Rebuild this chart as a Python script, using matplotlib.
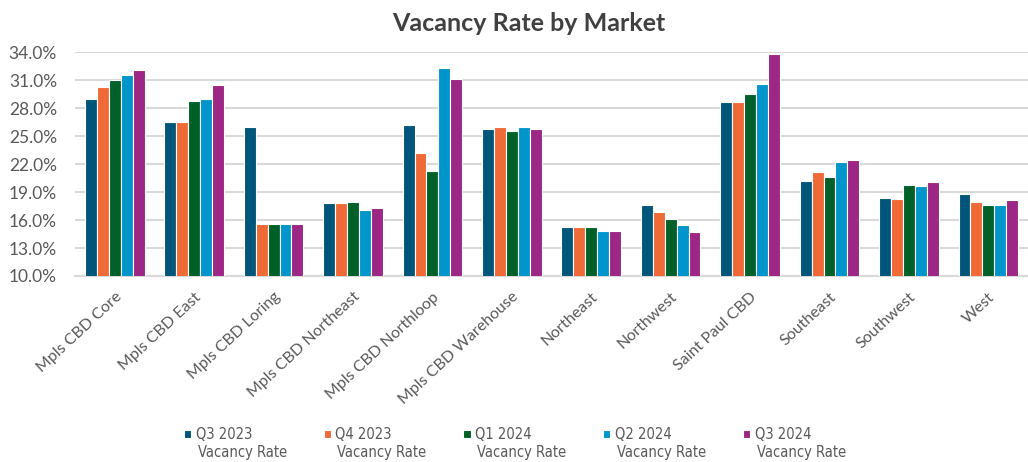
import matplotlib
matplotlib.use("Agg")
import matplotlib.pyplot as plt
import numpy as np
from matplotlib.ticker import FuncFormatter
from matplotlib import font_manager as fm

markets = ["Mpls CBD Core", "Mpls CBD East", "Mpls CBD Loring", "Mpls CBD Northeast",
           "Mpls CBD Northloop", "Mpls CBD Warehouse", "Northeast", "Northwest",
           "Saint Paul CBD", "Southeast", "Southwest", "West"]
series_quarters = ["Q3 2023", "Q4 2023", "Q1 2024", "Q2 2024", "Q3 2024"]
series_suffix = "Vacancy Rate"
q3_2023 = [29.0, 26.5, 26.0, 17.8, 26.2, 25.8, 15.3, 17.6, 28.6, 20.2, 18.4, 18.75]
q4_2023 = [30.3, 26.5, 15.6, 17.8, 23.2, 26.0, 15.3, 16.9, 28.6, 21.1, 18.25, 17.9]
q1_2024 = [31.0, 28.8, 15.6, 17.9, 21.2, 25.5, 15.3, 16.1, 29.5, 20.6, 19.75, 17.6]
q2_2024 = [31.5, 29.0, 15.6, 17.1, 32.25, 26.0, 14.8, 15.5, 30.6, 22.2, 19.6, 17.6]
q3_2024 = [32.1, 30.5, 15.6, 17.25, 31.1, 25.8, 14.8, 14.7, 33.75, 22.4, 20.07, 18.1]
yticks = [10, 13, 16, 19, 22, 25, 28, 31, 34]

colors = ["#00567A", "#F06A37", "#00602A", "#0096CC", "#9C2784"]
all_series = [q3_2023, q4_2023, q1_2024, q2_2024, q3_2024]

plt.rcParams['font.family'] = ['Lato', 'DejaVu Sans']

# pick a narrow font for the legend if one is installed
avail = {(f.name, f.stretch) for f in fm.fontManager.ttflist}
names = {f.name for f in fm.fontManager.ttflist}
if "Liberation Sans Narrow" in names:
    leg_prop = fm.FontProperties(family="Liberation Sans Narrow", size=12)
elif any(n == "DejaVu Sans" and s == "condensed" for n, s in avail):
    leg_prop = fm.FontProperties(family="DejaVu Sans", stretch="condensed", size=10.5)
else:
    leg_prop = fm.FontProperties(family="Lato", size=10.5)

fig = plt.figure(figsize=(10.28, 4.62), dpi=100)
ax = fig.add_axes([0.073, 0.4026, 0.927, 0.4848])

x = np.arange(len(markets))
w = 0.15
for i, (vals, c, name) in enumerate(zip(all_series, colors, series_quarters)):
    ax.bar(x + (i - 2) * w, vals, width=w, color=c, edgecolor="white", linewidth=0.8,
           label=name, zorder=3)

ax.set_ylim(10, 34)
ax.set_xlim(-0.5, len(markets) - 0.5)
ax.set_yticks(yticks)
ax.yaxis.set_major_formatter(FuncFormatter(lambda v, p: f"{v:.1f}%"))
ax.grid(axis="y", color="#D9D9D9", linewidth=1.5, zorder=0)
ax.set_axisbelow(True)
for s in ["left", "right", "top"]:
    ax.spines[s].set_visible(False)
ax.spines["bottom"].set_color("#D9D9D9")
ax.spines["bottom"].set_linewidth(1.5)
ax.tick_params(axis="both", length=0, colors="#595959")
ax.tick_params(axis="y", pad=13, labelsize=12.5)
ax.set_xticks(x)
ax.set_xticklabels(markets, rotation=43, ha="right", rotation_mode="anchor")
ax.tick_params(axis="x", pad=10, labelsize=11.5)

fig.suptitle("Vacancy Rate by Market", x=0.514, y=0.975, fontsize=18, fontweight="bold",
             color="#404040")

leg = fig.legend(loc="lower center", bbox_to_anchor=(0.484, 0.015), ncol=5, frameon=False,
                 handlelength=0.5, handleheight=0.5, handletextpad=0.3,
                 columnspacing=4.9, labelcolor="#595959", prop=leg_prop)

fig.canvas.draw()
inv = fig.transFigure.inverted()
for t in leg.get_texts():
    bb = t.get_window_extent()
    x0, y0 = inv.transform((bb.x0 + 2, bb.y0 - 3))
    fig.text(x0, y0, series_suffix, ha="left", va="top", color="#595959",
             fontproperties=leg_prop)

plt.savefig("out.png", dpi=100)
